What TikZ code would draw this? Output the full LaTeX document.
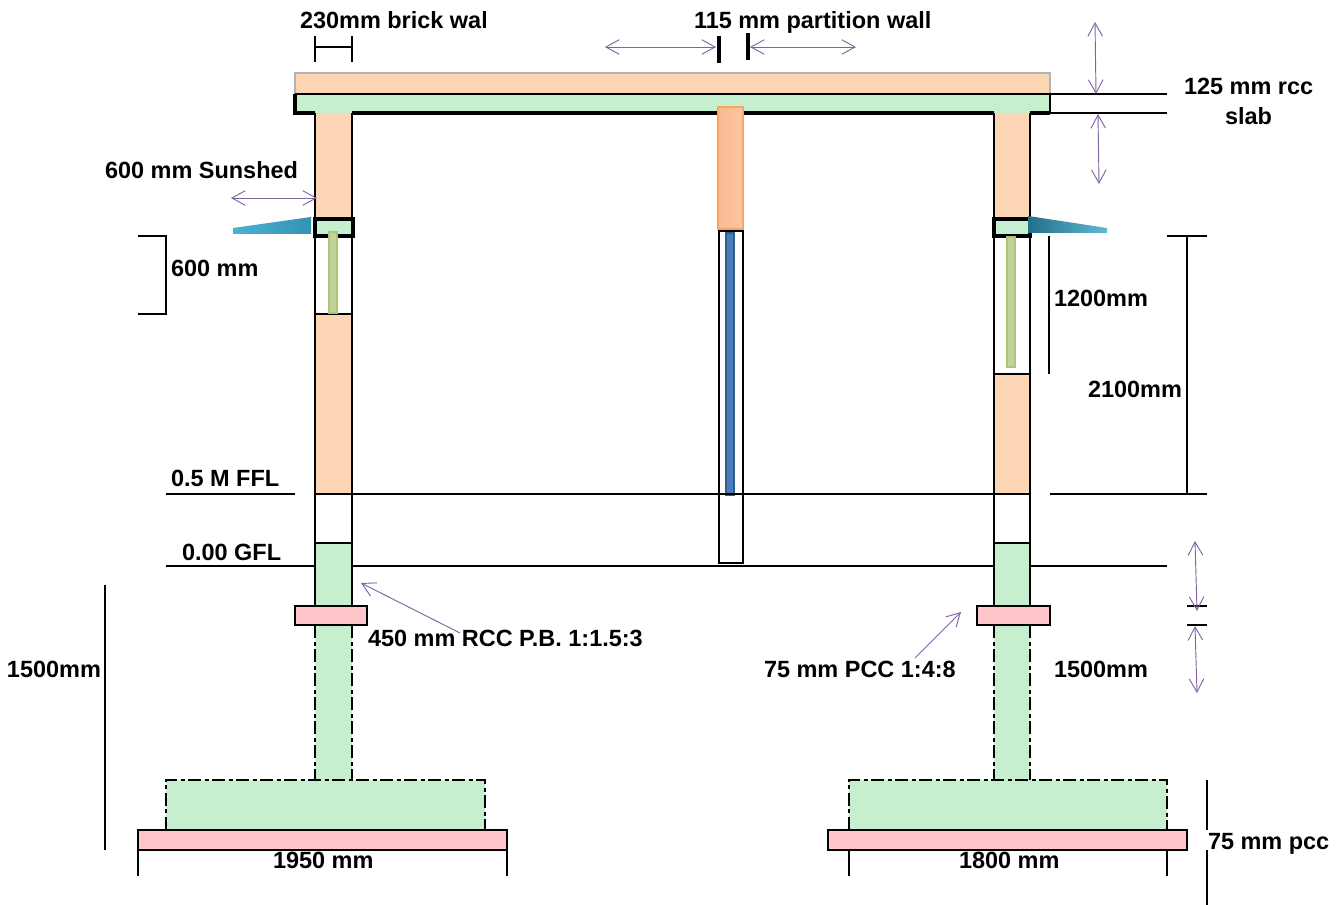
\documentclass[tikz,border=0pt]{standalone}
\usepackage{fontspec}
\setmainfont{Liberation Sans}
\usetikzlibrary{arrows.meta}
\definecolor{brick}{HTML}{FCD5B5}
\definecolor{rcc}{HTML}{C5EFCE}
\definecolor{pcc}{HTML}{FFC5CB}
\definecolor{dimv}{HTML}{8064A2}
\definecolor{glass}{HTML}{C0D49A}
\definecolor{glassb}{HTML}{A9C777}
\definecolor{shlight}{HTML}{4BB3D0}
\definecolor{shmid}{HTML}{3492B5}
\definecolor{shdark}{HTML}{246F8A}
\definecolor{shpale}{HTML}{5FBAD4}
\definecolor{partl}{HTML}{FBB98F}
\definecolor{partr}{HTML}{FDC5A2}
\definecolor{partb}{HTML}{F9A45F}
\definecolor{bluef}{HTML}{4A7EBB}
\definecolor{blued}{HTML}{2F5F8F}
\tikzset{
  x=0.75pt,y=-0.75pt,
  ln/.style={draw=black,line width=1.4pt},
  thin ln/.style={draw=black,line width=1.2pt},
  heavy/.style={draw=black,line width=3.2pt},
  lintelbox/.style={draw=black,line width=3.6pt},
  tickbar/.style={draw=black,line width=2.4pt},
  dashdot/.style={draw=black,line width=1.5pt,dash pattern=on 10pt off 2.5pt on 3pt off 2.5pt},
  wallseg/.style={fill=brick},
  rccseg/.style={fill=rcc},
  pccseg/.style={fill=pcc,draw=black,line width=1.5pt},
  dimarrow/.style={draw=dimv,line width=0.7pt,{Straight Barb[length=10pt,width=11pt]}-{Straight Barb[length=10pt,width=11pt]}},
  onearrow/.style={draw=dimv,line width=0.7pt,-{Straight Barb[length=10pt,width=11pt]}},
  lbl/.style={anchor=base west,inner sep=0pt,outer sep=0pt,font=\fontsize{17.6pt}{20pt}\selectfont\bfseries},
}
\begin{document}
\begin{tikzpicture}
\useasboundingbox (0,0) rectangle (1341,905);
% roof
\fill[wallseg] (295,73) rectangle (1050,94);
\draw[draw=black!30,line width=1.2pt] (295,94) -- (295,73) -- (1050,73) -- (1050,94);
\fill[rccseg] (295,95) rectangle (1050,113);
% left wall
\fill[wallseg] (315,113) rectangle (352,218);
\fill[rccseg] (315,218) rectangle (352,236);
\fill[white] (315,236) rectangle (352,314);
\fill[wallseg] (315,314) rectangle (352,494);
\fill[rccseg] (315,543) rectangle (352,606);
\fill[rccseg] (315,625) rectangle (352,780);
\draw[ln] (315,113) -- (315,606) (352,113) -- (352,606);
\draw[ln] (315,314) -- (352,314) (315,494) -- (352,494) (315,543) -- (352,543);
\draw[dashdot] (315,625) -- (315,780) (352,625) -- (352,780);
% right wall
\fill[wallseg] (994,113) rectangle (1030,218);
\fill[rccseg] (994,218) rectangle (1030,236);
\fill[white] (994,236) rectangle (1030,374);
\fill[wallseg] (994,374) rectangle (1030,494);
\fill[rccseg] (994,543) rectangle (1030,606);
\fill[rccseg] (994,625) rectangle (1030,780);
\draw[ln] (994,113) -- (994,606) (1030,113) -- (1030,606);
\draw[ln] (994,374) -- (1030,374) (994,494) -- (1030,494) (994,543) -- (1030,543);
\draw[dashdot] (994,625) -- (994,780) (1030,625) -- (1030,780);
% slab outline
\draw[ln] (295,94) -- (1167,94) (1050,113) -- (1167,113);
\draw[heavy] (295,94) -- (295,113) -- (315,113) (352,113) -- (994,113) (1030,113) -- (1050,113);
\draw[thin ln] (1050,94) -- (1050,114);
% lintels and glass
\draw[lintelbox] (315,219) rectangle (353,236);
\draw[lintelbox] (994,219) rectangle (1030,236);
\fill[glass,draw=glassb,line width=0.8pt] (329,232) rectangle (337,313);
\fill[glass,draw=glassb,line width=0.8pt] (1007,237) rectangle (1015,367);
% sunshades
\shade[left color=shlight,right color=shmid] (233,228) -- (311,217) -- (311,234) -- (233,234) -- cycle;
\shade[left color=shdark,right color=shpale] (1028,216) -- (1107,228) -- (1107,233) -- (1028,233) -- cycle;
% partition
\fill[white,draw=black,line width=1.3pt] (719,230) rectangle (743,563);
\draw[line width=2pt] (719,231) -- (743,231);
\fill[bluef,draw=blued,line width=0.9pt] (726,233) rectangle (734,495);
\shade[left color=partl,right color=partr] (718,107) rectangle (743,229);
\draw[partb,line width=0.9pt] (718,107) rectangle (743,229);
% level lines
\draw[ln] (166,494) -- (295,494) (352,494) -- (994,494) (1050,494) -- (1207,494);
\draw[ln] (166,566) -- (315,566) (352,566) -- (994,566) (1030,566) -- (1167,566);
% plinth beams
\draw[pccseg] (295,606) rectangle (367,625);
\draw[pccseg] (977,606) rectangle (1050,625);
% footings
\fill[rccseg] (166,780) rectangle (485,830);
\draw[dashdot] (166,830) -- (166,780) -- (485,780) -- (485,830);
\fill[rccseg] (849,780) rectangle (1167,830);
\draw[dashdot] (849,830) -- (849,780) -- (1167,780) -- (1167,830);
\draw[pccseg] (138,830) rectangle (507,850);
\draw[pccseg] (828,830) rectangle (1187,850);
\draw[dashdot] (166,830) -- (485,830) (849,830) -- (1167,830);
% dimension lines
\draw[thin ln] (315,36) -- (315,62) (352,36) -- (352,62) (315,47) -- (352,47);
\draw[tickbar] (719,36) -- (719,63) (748,33) -- (748,60);
\draw[thin ln] (138,850) -- (138,876) (507,850) -- (507,876);
\draw[thin ln] (849,850) -- (849,876) (1167,850) -- (1167,876);
\draw[thin ln] (138,236) -- (166,236) -- (166,314) -- (138,314);
\draw[thin ln] (1049,236) -- (1049,374);
\draw[ln] (1167,236) -- (1207,236) (1187,236) -- (1187,494);
\draw[thin ln] (105,585) -- (105,850);
\draw[ln] (1187,606) -- (1207,606) (1187,625) -- (1207,625);
\draw[thin ln] (1207,780) -- (1207,830) (1207,850) -- (1207,905);
% purple arrows
\draw[dimarrow] (605,47) -- (716,47);
\draw[dimarrow] (750,47) -- (856,47);
\draw[dimarrow] (1095,22) -- (1096,94);
\draw[dimarrow] (1098,114) -- (1099,184);
\draw[dimarrow] (231,198) -- (317,198);
\draw[dimarrow] (1195,541) -- (1197,611);
\draw[dimarrow] (1195,626) -- (1197,693);
\draw[onearrow] (460,633) -- (361,583);
\draw[onearrow] (915,658) -- (961,612);
% labels
\begin{scope}
\clip (290,0) rectangle (485,40);
\node[lbl] (wallbrick) at (300,28.7) {230mm brick wal};
\end{scope}
\node[lbl] (wallpart) at (694,28.7) {115 mm partition wall};
\node[lbl] (slabone) at (1184,94.7) {125 mm rcc};
\node[lbl] (slabtwo) at (1225,124.7) {slab};
\node[lbl] (sunshed) at (105,178.7) {600 mm Sunshed};
\node[lbl] (winleft) at (171,276.7) {600 mm};
\node[lbl] (winright) at (1054,306.7) {1200mm};
\node[lbl] (lintel) at (1088,397) {2100mm};
\node[lbl] (ffl) at (171,486.7) {0.5 M FFL};
\node[lbl] (gfl) at (182,560) {0.00 GFL};
\node[lbl] (pb) at (368,646) {450 mm RCC P.B. 1:1.5:3};
\node[lbl] (pccr) at (764,677) {75 mm PCC 1:4:8};
\node[lbl] (fdnr) at (1054,677) {1500mm};
\node[lbl] (fdnl) at (7,677) {1500mm};
\node[lbl] (wl) at (273,868) {1950 mm};
\node[lbl] (wr) at (959,868) {1800 mm};
\node[lbl] (pccf) at (1208,849) {75 mm pcc};
\end{tikzpicture}
\end{document}
